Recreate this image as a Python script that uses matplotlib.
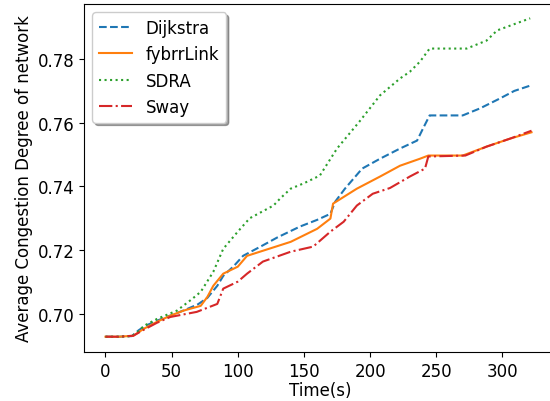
import matplotlib
matplotlib.use("Agg")
import matplotlib.pyplot as plt

# Dijkstra
t_dij = [0, 10, 20, 25, 30, 40, 50, 60, 70, 77, 84.5, 89, 97, 104, 118.5, 130, 147, 160, 170,
         173.6, 181, 194, 207.5, 222.6, 235.5, 240, 245, 270, 283, 298, 309, 322]
v_dij = [0.6928, 0.6928, 0.6930, 0.6948, 0.6962, 0.6980, 0.6996, 0.7012, 0.7030, 0.7050, 0.7088,
         0.7119, 0.7150, 0.7182, 0.7214, 0.7240, 0.7274, 0.7295, 0.7314,
         0.7352, 0.7393, 0.7456, 0.7487, 0.7519, 0.7544, 0.7582, 0.7623, 0.7623, 0.7645, 0.7676, 0.7700, 0.7718]

# fybrrLink
t_fyb = [0, 10, 21, 29, 39, 49, 59, 72, 77, 81.5, 89, 100, 107, 119, 140, 160, 170, 172, 190,
         207.5, 222.6, 237.7, 244, 270, 288, 305.7, 322]
v_fyb = [0.6928, 0.6928, 0.6931, 0.6953, 0.6975, 0.6994, 0.7010, 0.7025, 0.7053, 0.7088, 0.7126,
         0.7148, 0.7182, 0.7198, 0.7226, 0.7267, 0.7299, 0.7346, 0.7393,
         0.7431, 0.7465, 0.7487, 0.7497, 0.7497, 0.7525, 0.7550, 0.7570]

# SDRA
t_sdra = [0, 10, 20, 25, 29, 39, 54, 65, 72, 81.5, 89, 100, 109, 127, 132, 140, 150, 162, 175,
          192, 207.5, 222.6, 230, 237.7, 245, 273, 288, 296, 321]
v_sdra = [0.6928, 0.6928, 0.6930, 0.6945, 0.6962, 0.6984, 0.7010, 0.7045, 0.7069, 0.7132, 0.7204,
          0.7258, 0.7300, 0.7340, 0.7362, 0.7393, 0.7410, 0.7434, 0.7519,
          0.7604, 0.7686, 0.7739, 0.7760, 0.7792, 0.7833, 0.7833, 0.7858, 0.7890, 0.7928]

# Sway
t_sway = [0, 10, 21, 29, 39, 49, 69, 84.5, 89, 100, 107, 119, 140, 157, 170, 180, 190, 202,
          215, 230, 241.5, 244, 272, 288, 305.7, 322]
v_sway = [0.6928, 0.6928, 0.6931, 0.6950, 0.6972, 0.6990, 0.7006, 0.7031, 0.7079, 0.7101, 0.7126,
          0.7164, 0.7195, 0.7211, 0.7258, 0.7289, 0.7340, 0.7377,
          0.7395, 0.7431, 0.7456, 0.7494, 0.7497, 0.7525, 0.7550, 0.7575]

fig = plt.figure(figsize=(5.5, 4.02), dpi=100)
ax = fig.add_axes([0.1527, 0.1219, 0.86, 0.8657])

ax.plot(t_dij, v_dij, linestyle='--', label='Dijkstra')
ax.plot(t_fyb, v_fyb, linestyle='-', label='fybrrLink')
ax.plot(t_sdra, v_sdra, linestyle=':', label='SDRA')
ax.plot(t_sway, v_sway, linestyle='-.', color='tab:red', label='Sway')

ax.set_xlim(-16.25, 341.25)
ax.set_ylim(0.688, 0.7973)
ax.set_yticks([0.70, 0.72, 0.74, 0.76, 0.78])
ax.tick_params(labelsize=12)
ax.set_xlabel('Time(s)', fontsize=12, labelpad=1)
ax.set_ylabel('Average Congestion Degree of network', fontsize=12, labelpad=3)
ax.legend(loc='upper left', fontsize=12, shadow=True)

fig.savefig('out.png', dpi=100)
